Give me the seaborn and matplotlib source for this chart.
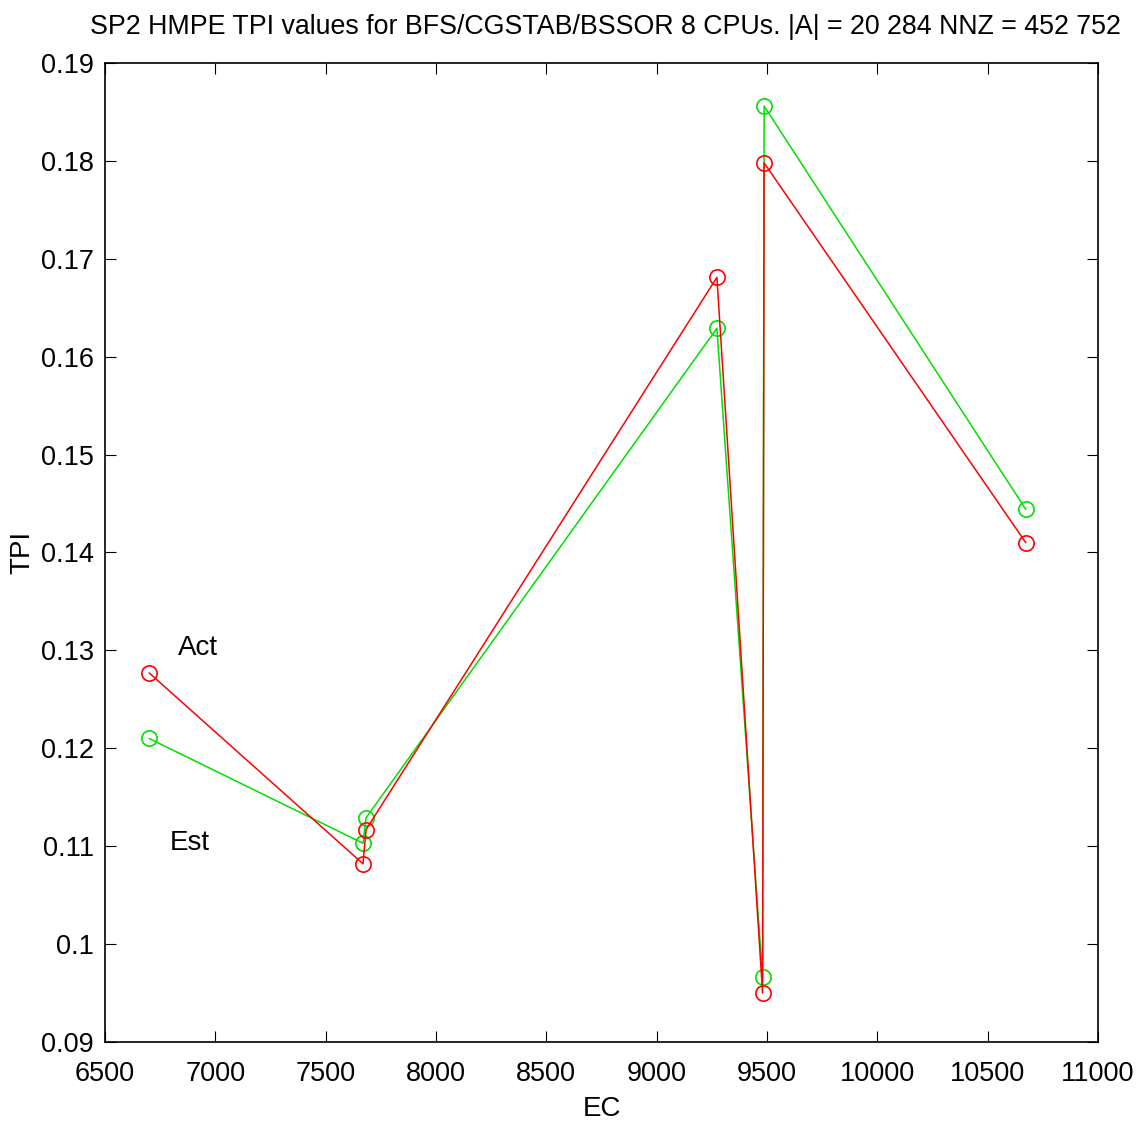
import matplotlib
matplotlib.use("Agg")
import matplotlib.pyplot as plt
import seaborn as sns
import pandas as pd

ec = [6700, 7669, 7683, 9273, 9480, 9487, 10673]
act = [0.1277, 0.1082, 0.1117, 0.1681, 0.0950, 0.1798, 0.1410]
est = [0.1210, 0.1103, 0.1129, 0.1629, 0.0966, 0.1856, 0.1444]
xticks = [6500, 7000, 7500, 8000, 8500, 9000, 9500, 10000, 10500, 11000]
yticks = [0.09, 0.10, 0.11, 0.12, 0.13, 0.14, 0.15, 0.16, 0.17, 0.18, 0.19]
ytick_labels = ["0.09", "0.1", "0.11", "0.12", "0.13", "0.14", "0.15", "0.16", "0.17", "0.18", "0.19"]

sns.set_style("ticks")
plt.rcParams["font.family"] = ["Liberation Sans", "DejaVu Sans"]
plt.rcParams["text.color"] = "black"
plt.rcParams["axes.labelcolor"] = "black"

df = pd.concat([
    pd.DataFrame({"EC": ec, "TPI": act, "kind": "Act"}),
    pd.DataFrame({"EC": ec, "TPI": est, "kind": "Est"}),
])

fig = plt.figure(figsize=(11.43, 11.25), dpi=100)
ax = fig.add_axes([0.0919, 0.0738, 0.8687, 0.8702])

sns.lineplot(data=df, x="EC", y="TPI", hue="kind", palette={"Act": "#ff0000", "Est": "#00e000"},
             hue_order=["Est", "Act"], sort=False, marker="o", markersize=11, markerfacecolor="none",
             markeredgewidth=1.2, linewidth=1.1, estimator=None, legend=False, ax=ax)
for line, c in zip(ax.lines, ["#00e000", "#ff0000"]):
    line.set_markeredgecolor(c)

ax.set_xlim(6500, 11000)
ax.set_ylim(0.09, 0.19)
ax.set_xticks(xticks)
ax.set_yticks(yticks)
ax.set_yticklabels(ytick_labels)
ax.tick_params(direction="in", length=8, width=0.8, top=True, right=True, labelsize=19.5,
               colors="black")
ax.tick_params(axis="x", pad=14)
ax.tick_params(axis="y", pad=8)
for s in ax.spines.values():
    s.set_linewidth(1.2)
    s.set_color("black")

ax.set_xlabel("EC", fontsize=20, labelpad=6)
ax.set_ylabel("TPI", fontsize=20, labelpad=4)
ax.set_title("SP2 HMPE TPI values for BFS/CGSTAB/BSSOR 8 CPUs. |A| = 20 284 NNZ = 452 752",
             fontsize=19.3, pad=21, x=0.5035)

ax.text(6920, 0.1302, "Act", fontsize=20, ha="center", va="center")
ax.text(6885, 0.1103, "Est", fontsize=20, ha="center", va="center")

fig.savefig("out.png", dpi=100)
